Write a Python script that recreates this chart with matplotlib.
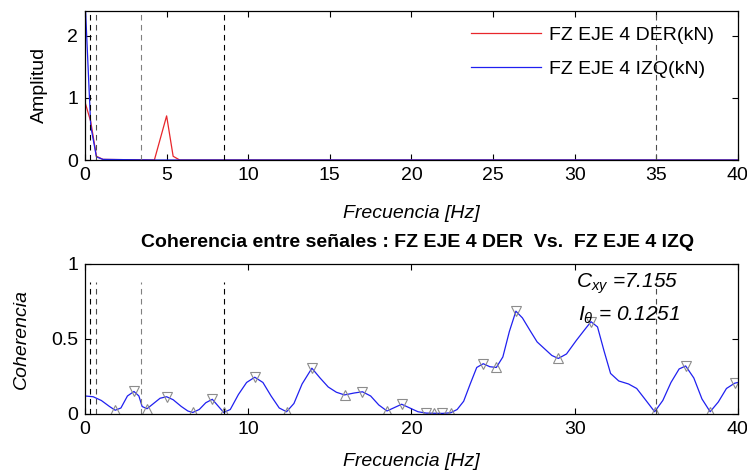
import matplotlib
matplotlib.use("Agg")
import matplotlib.pyplot as plt

plt.rcParams['font.family'] = ['Liberation Sans', 'DejaVu Sans']
plt.rcParams['mathtext.fontset'] = 'custom'
plt.rcParams['mathtext.rm'] = 'Liberation Sans'
plt.rcParams['mathtext.it'] = 'Liberation Sans:italic'

# --- amplitude spectrum (top) ---
amp_freq = [0.0, 0.35, 0.7, 1.1, 4.25, 5.0, 5.4, 5.8, 40.0]
amp_der = [0.93, 0.62, 0.06, 0.01, 0.0, 0.71, 0.06, 0.0, 0.0]
amp_izq = [2.6, 0.55, 0.05, 0.01, 0.0, 0.0, 0.0, 0.0, 0.0]

# --- coherence (bottom) ---
coh_freq = [0.0, 0.5, 1.0, 1.5, 1.85, 2.2, 2.6, 3.0, 3.3, 3.5, 3.8, 4.2, 4.6, 5.0,
            5.4, 5.9, 6.3, 6.6, 7.0, 7.4, 7.8, 8.1, 8.5, 8.9, 9.4, 9.9, 10.4,
            10.9, 11.4, 11.9, 12.35, 12.8, 13.3, 13.9, 14.4, 14.9, 15.4, 15.9,
            16.5, 17.0, 17.5, 18.0, 18.5, 19.0, 19.4, 19.9, 20.4, 20.9, 21.4,
            21.9, 22.4, 22.8, 23.2, 23.6, 24.0, 24.4, 24.8, 25.2, 25.6, 26.0,
            26.4, 26.8, 27.3, 27.7, 28.2, 28.6, 29.0, 29.5, 30.1, 30.6, 31.0,
            31.4, 31.8, 32.2, 32.7, 33.3, 33.8, 34.3, 34.9, 35.4, 35.9, 36.4,
            36.8, 37.3, 37.8, 38.3, 38.8, 39.3, 39.8, 40.0]
coh_val = [0.12, 0.115, 0.09, 0.05, 0.025, 0.04, 0.12, 0.15, 0.12, 0.05, 0.035,
           0.07, 0.105, 0.115, 0.095, 0.05, 0.02, 0.01, 0.03, 0.075, 0.098,
           0.06, 0.01, 0.03, 0.13, 0.21, 0.245, 0.21, 0.12, 0.04, 0.015, 0.07,
           0.2, 0.305, 0.24, 0.18, 0.145, 0.127, 0.14, 0.148, 0.12, 0.06, 0.02,
           0.045, 0.065, 0.04, 0.015, 0.006, 0.005, 0.004, 0.008, 0.03, 0.085,
           0.2, 0.31, 0.335, 0.315, 0.31, 0.38, 0.55, 0.685, 0.64, 0.55, 0.48,
           0.43, 0.39, 0.37, 0.4, 0.49, 0.56, 0.615, 0.58, 0.42, 0.27, 0.22,
           0.2, 0.17, 0.1, 0.015, 0.09, 0.21, 0.3, 0.32, 0.24, 0.1, 0.015,
           0.08, 0.17, 0.205, 0.21]

peak_freq = [3.0, 5.0, 7.8, 10.4, 13.9, 17.0, 19.4, 20.9, 21.9, 24.4, 26.4, 31.0, 36.8, 39.8]
peak_val = [0.15, 0.115, 0.098, 0.245, 0.305, 0.148, 0.065, 0.006, 0.004, 0.335, 0.685, 0.615, 0.32, 0.205]
valley_freq = [1.85, 3.8, 6.6, 8.5, 12.35, 15.9, 18.5, 21.4, 22.4, 25.2, 29.0, 34.9, 38.3]
valley_val = [0.025, 0.035, 0.01, 0.01, 0.015, 0.127, 0.02, 0.005, 0.008, 0.31, 0.37, 0.015, 0.015]

# vertical reference frequencies
ref_freq = [0.3, 0.7, 3.4, 8.5, 35.0]
ref_color = ['k', '0.3', '0.5', 'k', '0.3']

fig = plt.figure(figsize=(7.47, 4.72), dpi=100)
ax1 = fig.add_axes([0.1138, 0.661, 0.874, 0.316])
ax2 = fig.add_axes([0.1138, 0.1229, 0.874, 0.318])

fs = 14

# top plot
ax1.plot(amp_freq, amp_der, color='#e8262b', lw=0.9, label='FZ EJE 4 DER(kN)')
ax1.plot(amp_freq, amp_izq, color='#2020f0', lw=0.9, label='FZ EJE 4 IZQ(kN)')
for f, c in zip(ref_freq, ref_color):
    ax1.plot([f, f], [0, 2.4], ls=(0, (5, 4)), color=c, lw=0.8)
ax1.set_xlim(0, 40)
ax1.set_ylim(0, 2.4)
ax1.set_xticks([0, 5, 10, 15, 20, 25, 30, 35, 40])
ax1.set_yticks([0, 1, 2])
ax1.set_xlabel('Frecuencia [Hz]', fontsize=fs, style='italic')
ax1.xaxis.set_label_coords(0.5, -0.30)
ax1.set_ylabel('Amplitud', fontsize=fs)
ax1.yaxis.set_label_coords(-0.057, 0.5)
ax1.legend(loc='upper right', frameon=False, fontsize=fs, handlelength=3.6,
           handletextpad=0.45, labelspacing=0.85, borderaxespad=0, borderpad=0,
           bbox_to_anchor=(0.964, 0.895))

# bottom plot
ax2.plot(coh_freq, coh_val, color='#2020f0', lw=0.9)
ax2.plot(peak_freq, peak_val, 'v', ms=7, mfc='none', mec='0.55', mew=0.8)
ax2.plot(valley_freq, valley_val, '^', ms=7, mfc='none', mec='0.55', mew=0.8)
for f, c in zip(ref_freq, ref_color):
    ax2.plot([f, f], [0, 0.88], ls=(0, (5, 4)), color=c, lw=0.8)
ax2.set_xlim(0, 40)
ax2.set_ylim(0, 1)
ax2.set_xticks([0, 10, 20, 30, 40])
ax2.set_yticks([0, 0.5, 1])
ax2.set_yticklabels(['0', '0.5', '1'])
ax2.set_xlabel('Frecuencia [Hz]', fontsize=fs, style='italic')
ax2.xaxis.set_label_coords(0.5, -0.26)
ax2.set_ylabel('Coherencia', fontsize=fs, style='italic')
ax2.yaxis.set_label_coords(-0.084, 0.5)
ax2.text(0.51, 1.14, 'Coherencia entre señales : FZ EJE 4 DER  Vs.  FZ EJE 4 IZQ',
         transform=ax2.transAxes, ha='center', va='center',
         fontsize=14, fontweight='bold')
ax2.text(30.1, 0.87, r'$C_{xy}$ =7.155', fontsize=fs + 1, style='italic', va='center')
ax2.text(30.2, 0.66, r'$I_{\theta}$ = 0.1251', fontsize=fs + 1, style='italic', va='center')

for ax in (ax1, ax2):
    ax.tick_params(direction='in', top=True, right=True, labelsize=fs,
                   length=4, width=0.8, pad=5)
    for s in ax.spines.values():
        s.set_linewidth(0.9)

fig.savefig('out.png', dpi=100)
